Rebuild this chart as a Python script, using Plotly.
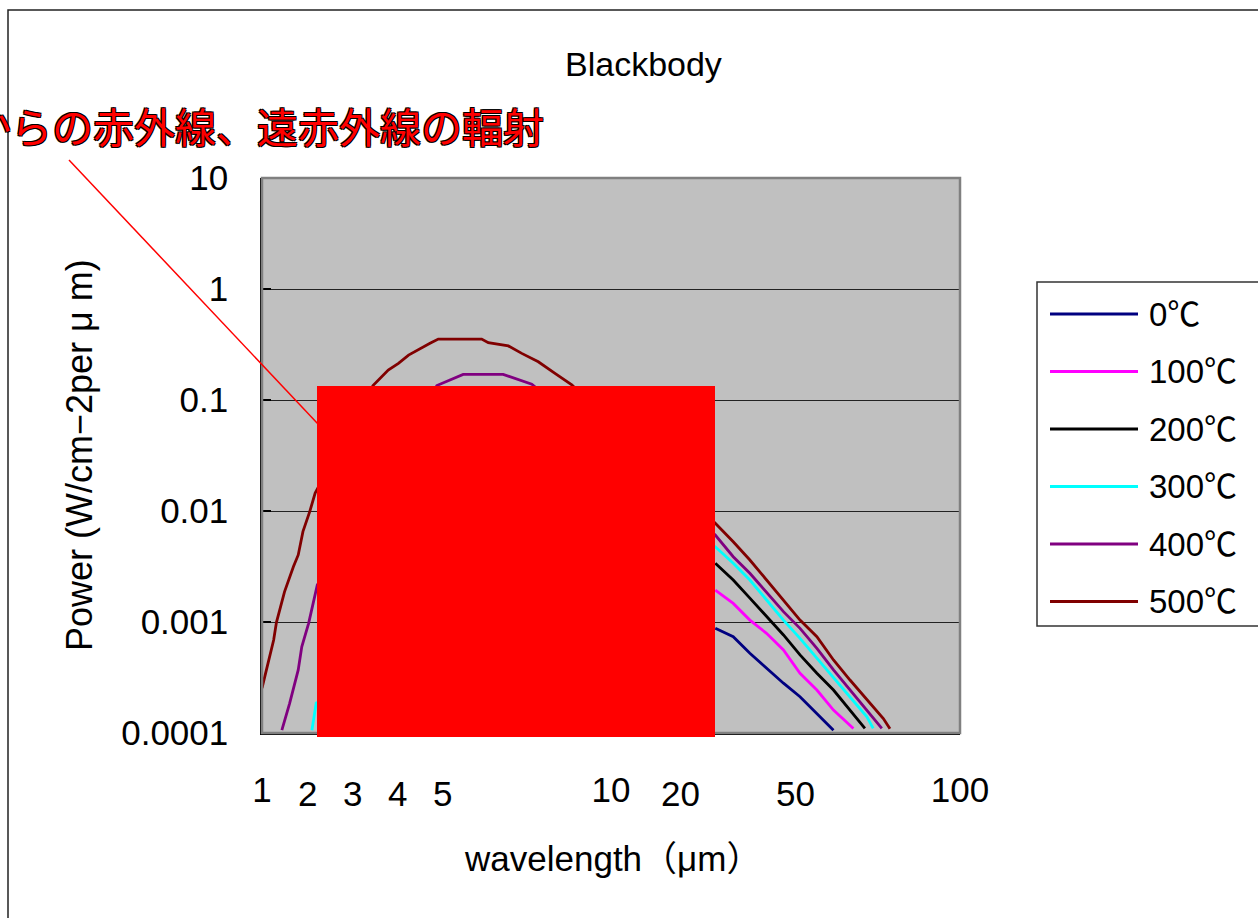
import plotly.graph_objects as go

# ---------------- data ----------------
series_names = ["0℃", "100℃", "200℃", "300℃", "400℃", "500℃"]
series_colors = ["#000080", "#ff00ff", "#000000", "#00ffff", "#800080", "#800000"]

wl_0 = [19.9, 22.4, 25.0, 27.9, 31.2, 34.8, 38.9, 43.4]
pw_0 = [8.77e-4, 7.38e-4, 5.22e-4, 3.83e-4, 2.81e-4, 2.12e-4, 1.50e-4, 1.06e-4]

wl_100 = [19.9, 22.4, 25.0, 27.9, 31.2, 34.8, 38.9, 43.4, 49.5]
pw_100 = [1.94e-3, 1.47e-3, 1.04e-3, 7.91e-4, 5.60e-4, 3.45e-4, 2.44e-4, 1.61e-4, 1.10e-4]

wl_200 = [19.9, 22.4, 25.0, 27.9, 31.2, 34.8, 38.9, 43.4, 48.4, 53.4]
pw_200 = [3.38e-3, 2.39e-3, 1.64e-3, 1.12e-3, 7.64e-4, 5.05e-4, 3.45e-4, 2.44e-4, 1.61e-4, 1.10e-4]

wl_300 = [1.39, 1.43, 19.9, 22.4, 25.0, 27.9, 31.2, 34.8, 38.9, 43.4, 48.4, 54.1, 56.4]
pw_300 = [1.06e-4, 1.86e-4, 4.76e-3, 3.38e-3, 2.39e-3, 1.58e-3, 1.04e-3, 7.13e-4, 4.71e-4,
          3.21e-4, 2.12e-4, 1.40e-4, 1.10e-4]

wl_400 = [1.14, 1.20, 1.27, 1.30, 1.36, 1.40, 1.44, 3.17, 3.35, 3.53, 3.77, 4.91, 5.43, 5.93,
          19.9, 22.4, 25.0, 27.9, 31.2, 34.8, 38.9, 43.4, 48.4, 54.1, 59.7]
pw_400 = [1.06e-4, 1.85e-4, 3.70e-4, 5.98e-4, 9.72e-4, 1.47e-3, 2.15e-3, 0.135, 0.146, 0.157,
          0.170, 0.170, 0.154, 0.139, 6.08e-3, 3.87e-3, 2.75e-3, 1.87e-3, 1.24e-3, 8.77e-4,
          5.79e-4, 3.70e-4, 2.44e-4, 1.61e-4, 1.10e-4]

wl_500 = [1.00, 1.08, 1.10, 1.16, 1.23, 1.27, 1.31, 1.37, 1.42, 2.08, 2.30, 2.46, 2.63, 2.87,
          3.03, 3.20, 4.26, 4.45, 5.08, 5.55, 6.19, 6.91, 7.72, 19.9, 22.4, 25.0, 27.9, 31.2,
          34.8, 38.9, 43.4, 48.4, 54.1, 60.3, 63.0]
pw_500 = [2.54e-4, 6.89e-4, 9.93e-4, 1.87e-3, 3.15e-3, 4.02e-3, 6.52e-3, 9.86e-3, 1.45e-2,
          0.135, 0.186, 0.214, 0.254, 0.292, 0.324, 0.354, 0.354, 0.328, 0.307, 0.263, 0.221,
          0.174, 0.137, 7.74e-3, 5.28e-3, 3.62e-3, 2.39e-3, 1.58e-3, 1.04e-3, 7.38e-4,
          4.55e-4, 3.00e-4, 1.98e-4, 1.35e-4, 1.09e-4]

x_tick_vals = [1, 10, 100]
x_tick_text = ["1", "10", "100"]
x_extra_labels = ["2", "3", "4", "5", "20", "50"]
y_tick_vals = [1e-4, 1e-3, 1e-2, 1e-1, 1, 10]
y_tick_text = ["0.0001", "0.001", "0.01", "0.1", "1", "10"]

chart_title = "Blackbody"
x_title = "wavelength（μm）"
y_title = "Power (W/cm−2per μ m)"
callout_text = "からの赤外線、遠赤外線の輻射"

# ---------------- layout helpers (pixel -> paper) ----------------
PL, PR, PT, PB = 262, 960, 178, 733
W, H = 1258, 918


def px(x):
    return (x - PL) / (PR - PL)


def py(y):
    return (PB - y) / (PB - PT)


FONT = "Arial, 'Liberation Sans', 'Noto Sans CJK JP', sans-serif"
CJK = "'Noto Sans CJK JP', 'Liberation Sans', sans-serif"

fig = go.Figure()
all_wl = [wl_0, wl_100, wl_200, wl_300, wl_400, wl_500]
all_pw = [pw_0, pw_100, pw_200, pw_300, pw_400, pw_500]
for name, color, wl, pw in zip(series_names, series_colors, all_wl, all_pw):
    fig.add_trace(go.Scatter(x=wl, y=pw, mode="lines", name=name,
                             line=dict(color=color, width=2.8), showlegend=False))

shapes = []
annotations = []

# outer chart border
shapes.append(dict(type="rect", xref="paper", yref="paper",
                   x0=px(8), x1=px(1275), y0=py(935), y1=py(10),
                   line=dict(color="#222222", width=1.5), layer="below"))
# plot-area border
shapes.append(dict(type="rect", xref="paper", yref="paper",
                   x0=0, x1=1, y0=0, y1=1,
                   line=dict(color="#808080", width=2.5), layer="above"))
# red cover box and pointer line
shapes.append(dict(type="line", xref="paper", yref="paper",
                   x0=px(69), y0=py(160), x1=px(318), y1=py(424),
                   line=dict(color="#ff0000", width=1.5)))
shapes.append(dict(type="rect", xref="paper", yref="paper",
                   x0=px(317), x1=px(715), y0=py(737), y1=py(386),
                   fillcolor="#ff0000", line=dict(width=0), layer="above"))

# manual legend
shapes.append(dict(type="rect", xref="paper", yref="paper",
                   x0=px(1037), x1=px(1275), y0=py(626), y1=py(282),
                   fillcolor="white", line=dict(color="#333333", width=1.5)))
for i, (name, color) in enumerate(zip(series_names, series_colors)):
    yy = 314 + i * 57.5
    shapes.append(dict(type="line", xref="paper", yref="paper",
                       x0=px(1050), x1=px(1138), y0=py(yy), y1=py(yy),
                       line=dict(color=color, width=3)))
    annotations.append(dict(text=name, xref="paper", yref="paper", x=px(1147), y=py(yy),
                            xanchor="left", yanchor="middle", showarrow=False,
                            font=dict(family=FONT, size=33, color="black")))

# title, axis titles
annotations.append(dict(text=chart_title, xref="paper", yref="paper", x=px(643), y=py(64),
                        xanchor="center", yanchor="middle", showarrow=False,
                        font=dict(family=FONT, size=34, color="black")))
annotations.append(dict(text=x_title, xref="paper", yref="paper", x=px(612), y=py(858),
                        xanchor="center", yanchor="middle", showarrow=False,
                        font=dict(family=FONT, size=35, color="black")))
annotations.append(dict(text=y_title, xref="paper", yref="paper", x=px(79), y=py(455),
                        xanchor="center", yanchor="middle", showarrow=False, textangle=-90,
                        font=dict(family=FONT, size=36, color="black")))

# extra hand-placed x labels
extra_px = [307, 352, 397, 442, 680, 795]
for lab, xp in zip(x_extra_labels, extra_px):
    annotations.append(dict(text=lab, xref="paper", yref="paper", x=px(xp), y=py(793),
                            xanchor="center", yanchor="middle", showarrow=False,
                            font=dict(family=FONT, size=35, color="black")))

# red callout text
annotations.append(dict(text=callout_text, xref="paper", yref="paper", x=px(546), y=py(125),
                        xanchor="right", yanchor="middle", showarrow=False,
                        font=dict(family=CJK, size=41, color="#ff0000",
                                  shadow="1px 1px 0 #000, -1px -1px 0 #000, 1px -1px 0 #000, "
                                         "-1px 1px 0 #000")))

fig.update_layout(
    width=W, height=H,
    margin=dict(l=PL, r=W - PR, t=PT, b=H - PB, pad=0),
    paper_bgcolor="white", plot_bgcolor="#c0c0c0",
    font=dict(family=FONT, color="black"),
    showlegend=False,
    shapes=shapes, annotations=annotations,
)
fig.update_xaxes(type="log", range=[0, 2], tickvals=x_tick_vals, ticktext=x_tick_text,
                 tickfont=dict(size=35, family=FONT), ticks="", showgrid=False,
                 showline=True, linecolor="black", linewidth=1.5, zeroline=False,
                 ticklabelstandoff=25)
fig.update_yaxes(type="log", range=[-4, 1], tickvals=y_tick_vals, ticktext=y_tick_text,
                 tickfont=dict(size=35, family=FONT), ticks="inside", ticklen=9,
                 tickcolor="black", tickwidth=1.5, showgrid=True, gridcolor="#222222",
                 gridwidth=1, showline=True, linecolor="black", linewidth=1.5,
                 zeroline=False, ticklabelstandoff=25)

fig.write_html("out.html", config={"displayModeBar": False})
